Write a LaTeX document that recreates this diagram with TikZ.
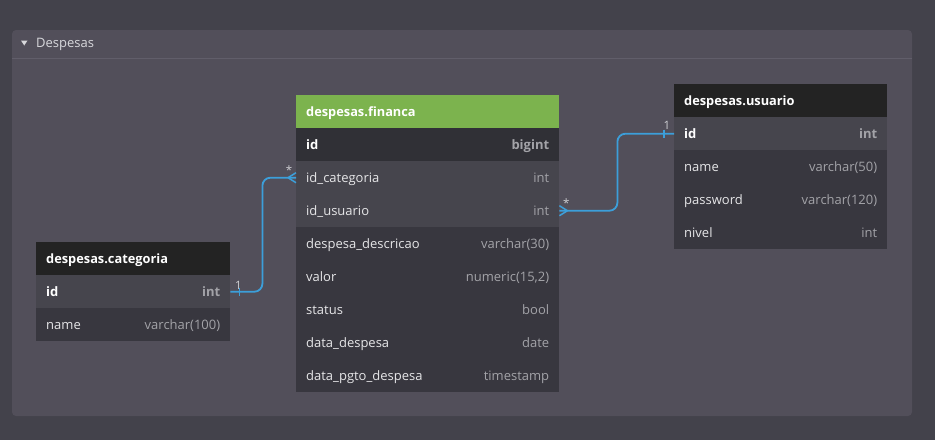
\documentclass[tikz,border=0pt]{standalone}
\usepackage{fontspec}
\setmainfont{Open Sans}
\definecolor{bgc}{HTML}{43424B}
\definecolor{panelc}{HTML}{524F5A}
\definecolor{sepc}{HTML}{615E6A}
\definecolor{headdark}{HTML}{232323}
\definecolor{headgreen}{HTML}{7CB34E}
\definecolor{rowlight}{HTML}{46454D}
\definecolor{rowdark}{HTML}{38373F}
\definecolor{rowid}{HTML}{303036}
\definecolor{fieldc}{HTML}{E6E6E8}
\definecolor{typec}{HTML}{A3A3A8}
\definecolor{relc}{HTML}{3C9FDA}
\definecolor{cardc}{HTML}{CFCFD3}
\definecolor{grptxt}{HTML}{D8D8DC}
\tikzset{
  rowbox/.style={draw=none, inner sep=0pt, minimum height=33pt, anchor=north west},
  fieldtxt/.style={inner sep=0pt, anchor=west, text=fieldc, font=\fontsize{13}{15}\selectfont, text height=11pt, text depth=2pt},
  typetxt/.style={inner sep=0pt, anchor=east, text=typec, font=\fontsize{13}{15}\selectfont, text height=11pt, text depth=2pt},
  headtxt/.style={inner sep=0pt, anchor=west, text=white, font=\fontsize{12.8}{15}\selectfont\bfseries, text height=11pt, text depth=2pt},
  rel/.style={draw=relc, line width=1.8pt},
  crow/.style={draw=relc, line width=1.5pt},
  card/.style={text=cardc, font=\fontsize{11.5}{12}\selectfont, inner sep=0pt},
}
\newcommand{\erow}[8]{%
  \node[rowbox, fill=#5, minimum width=#4pt] (#1) at (#2,#3) {};
  \node[fieldtxt] (#1n) at ([xshift=10pt]#1.west) {#8#6};
  \node[typetxt] (#1t) at ([xshift=-10pt]#1.east) {#8#7};
}
\newcommand{\ehead}[6]{%
  \node[rowbox, fill=#5, minimum width=#4pt] (#1) at (#2,#3) {};
  \node[headtxt] (#1n) at ([xshift=10pt]#1.west) {#6};
}
\begin{document}
\begin{tikzpicture}[x=1pt,y=-1pt]
\fill[bgc] (0,0) rectangle (935,440);
\useasboundingbox (0,0) rectangle (935,440);
% group panel
\fill[panelc, rounded corners=4pt] (12,30) rectangle (912,416);
\draw[sepc, line width=1.5pt] (12,58.5) -- (912,58.5);
\fill[grptxt] (21,40.5) -- (27.5,40.5) -- (24.25,45.5) -- cycle;
\node[inner sep=0pt, anchor=west, text=grptxt, font=\fontsize{13}{15}\selectfont, text height=11pt, text depth=2pt] (grp) at (36,43) {Despesas};

% despesas.financa
\ehead{fh}{296}{95}{263}{headgreen}{despesas.financa}
\erow{fid}{296}{128}{263}{rowid}{\textcolor{white}{id}}{bigint}{\bfseries}
\erow{fidc}{296}{161}{263}{rowlight}{id\_categoria}{int}{}
\erow{fidu}{296}{194}{263}{rowlight}{id\_usuario}{int}{}
\erow{fdd}{296}{227}{263}{rowdark}{despesa\_descricao}{varchar(30)}{}
\erow{fva}{296}{260}{263}{rowdark}{valor}{numeric(15,2)}{}
\erow{fst}{296}{293}{263}{rowdark}{status}{bool}{}
\erow{fdt}{296}{326}{263}{rowdark}{data\_despesa}{date}{}
\erow{fpg}{296}{359}{263}{rowdark}{data\_pgto\_despesa}{timestamp}{}

% despesas.categoria
\ehead{ch}{36}{242}{194}{headdark}{despesas.categoria}
\erow{cid}{36}{275}{194}{rowlight}{\textcolor{white}{id}}{int}{\bfseries}
\erow{cnm}{36}{308}{194}{rowdark}{name}{varchar(100)}{}

% despesas.usuario
\ehead{uh}{674}{84}{213}{headdark}{despesas.usuario}
\erow{uid}{674}{117}{213}{rowlight}{\textcolor{white}{id}}{int}{\bfseries}
\erow{unm}{674}{150}{213}{rowdark}{name}{varchar(50)}{}
\erow{upw}{674}{183}{213}{rowdark}{password}{varchar(120)}{}
\erow{unv}{674}{216}{213}{rowdark}{nivel}{int}{}

% relation categoria -> financa
\draw[rel, rounded corners=8pt] (cid.east) -- ++(32,0) |- (fidc.west);
\coordinate (cfa) at ([xshift=-8pt]fidc.west);
\draw[crow] (cfa) -- ([yshift=5pt]fidc.west);
\draw[crow] (cfa) -- ([yshift=-5pt]fidc.west);
\draw[crow] ([xshift=9pt,yshift=4pt]cid.east) -- ([xshift=9pt,yshift=-4pt]cid.east);
\node[card] (c1) at ([xshift=8pt,yshift=6pt]cid.east) {1};
\node[card] (c2) at ([xshift=-7pt,yshift=8pt]fidc.west) {*};

% relation usuario -> financa
\draw[rel, rounded corners=8pt] (fidu.east) -- ++(58,0) |- (uid.west);
\coordinate (cfb) at ([xshift=8pt]fidu.east);
\draw[crow] (cfb) -- ([yshift=5pt]fidu.east);
\draw[crow] (cfb) -- ([yshift=-5pt]fidu.east);
\draw[crow] ([xshift=-10pt,yshift=4pt]uid.west) -- ([xshift=-10pt,yshift=-4pt]uid.west);
\node[card] (c3) at ([xshift=-7pt,yshift=8pt]uid.west) {1};
\node[card] (c4) at ([xshift=7pt,yshift=8pt]fidu.east) {*};
\end{tikzpicture}
\end{document}
